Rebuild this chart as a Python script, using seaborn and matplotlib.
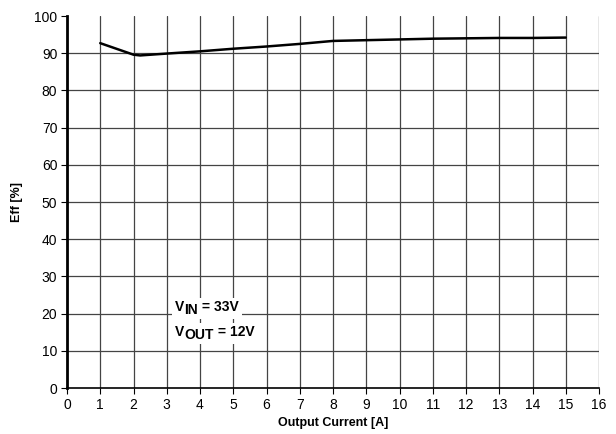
import matplotlib
matplotlib.use("Agg")
import matplotlib.pyplot as plt
from matplotlib.patches import Rectangle
from matplotlib.transforms import Bbox, IdentityTransform
import seaborn as sns
import pandas as pd

current = [1.0, 2.0, 2.2, 3.0, 4.0, 5.0, 6.0, 7.0, 8.0, 9.0, 10.0, 11.0, 12.0, 13.0, 14.0, 15.0]
efficiency = [92.7, 89.6, 89.4, 89.9, 90.5, 91.2, 91.8, 92.5, 93.3, 93.5, 93.7, 93.9, 94.0, 94.1, 94.1, 94.2]
x_ticks = list(range(0, 17))
y_ticks = list(range(0, 101, 10))

sns.set_theme(style="white")
plt.rcParams['font.family'] = ['Liberation Sans', 'DejaVu Sans']
plt.rcParams['text.color'] = 'black'
plt.rcParams['axes.labelcolor'] = 'black'
plt.rcParams['xtick.color'] = 'black'
plt.rcParams['ytick.color'] = 'black'

df = pd.DataFrame({"x": current, "y": efficiency})
fig = plt.figure(figsize=(6.16, 4.34), dpi=100)
ax = fig.add_axes([67/616, 46/434, (599-67)/616, (388-16)/434])
ax.set_xlim(0, 16)
ax.set_ylim(0, 100)
for xv in x_ticks[1:]:
    ax.axvline(xv, color="#444444", lw=0.9, zorder=1)
for yv in y_ticks[1:-1]:
    ax.axhline(yv, color="#444444", lw=0.9, zorder=1)
sns.lineplot(data=df, x="x", y="y", ax=ax, color="black", lw=1.8, zorder=3)

ax.set_xticks(x_ticks)
ax.set_yticks(y_ticks)
ax.tick_params(axis="both", direction="out", length=4, width=0.8, labelsize=10, pad=3, bottom=True, left=True)
for s in ["top", "right"]:
    ax.spines[s].set_visible(False)
ax.spines["left"].set_color("black")
ax.spines["left"].set_linewidth(2)
ax.spines["bottom"].set_color("black")
ax.spines["bottom"].set_linewidth(1.2)
ax.set_xlabel("Output Current [A]", fontsize=9, fontweight="bold", labelpad=4)
ax.set_ylabel("Eff [%]", fontsize=9, fontweight="bold", labelpad=8)

labels = []
def sub_label(x, y, main, sub, rest):
    t1 = ax.text(x, y, main, fontsize=10, fontweight="bold", ha="left", va="bottom", zorder=4)
    t2 = ax.annotate(sub, xy=(1, 0), xycoords=t1, xytext=(0, -2.2), textcoords="offset points",
                     fontsize=10, fontweight="bold", ha="left", va="bottom", zorder=4)
    t3 = ax.annotate(rest, xy=(1, 0), xycoords=t2, xytext=(0, 2.2), textcoords="offset points",
                     fontsize=10, fontweight="bold", ha="left", va="bottom", zorder=4)
    labels.append((t1, t2, t3))

sub_label(3.25, 20.0, "V", "IN", " = 33V")
sub_label(3.25, 13.2, "V", "OUT", " = 12V")

fig.canvas.draw()
r = fig.canvas.get_renderer()
for parts in labels:
    bb = Bbox.union([p.get_window_extent(r) for p in parts])
    rect = Rectangle((bb.x0 - 3, bb.y0 - 2), bb.width + 6, bb.height + 4,
                     transform=IdentityTransform(), facecolor="white", edgecolor="none", zorder=3.5)
    ax.add_artist(rect)

fig.savefig("out.png", dpi=100)
